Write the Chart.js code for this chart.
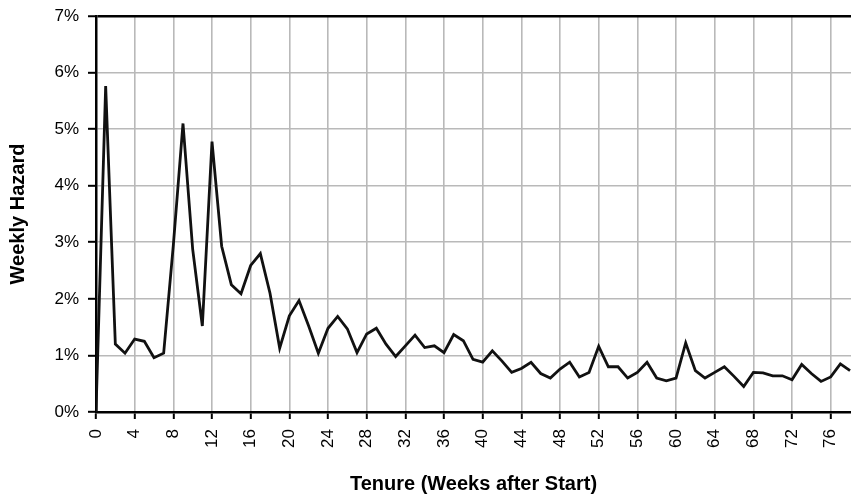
<!DOCTYPE html>
<html>
<head>
<meta charset="utf-8">
<script src="https://cdn.jsdelivr.net/npm/chart.js@4"></script>
<style>
  html, body { margin: 0; padding: 0; background: #fff; }
  #wrap { position: relative; width: 851px; height: 494px; }
</style>
</head>
<body>
<div id="wrap"><canvas id="c"></canvas></div>
<script>
// Tenure in weeks after start
const weeks = [
  0, 1, 2, 3, 4, 5, 6, 7, 8, 9,
  10, 11, 12, 13, 14, 15, 16, 17, 18, 19,
  20, 21, 22, 23, 24, 25, 26, 27, 28, 29,
  30, 31, 32, 33, 34, 35, 36, 37, 38, 39,
  40, 41, 42, 43, 44, 45, 46, 47, 48, 49,
  50, 51, 52, 53, 54, 55, 56, 57, 58, 59,
  60, 61, 62, 63, 64, 65, 66, 67, 68, 69,
  70, 71, 72, 73, 74, 75, 76, 77, 78
];
// Weekly hazard in percent
const weeklyHazard = [
  0.00, 5.76, 1.20, 1.04, 1.29, 1.25, 0.96, 1.04, 2.95, 5.10,
  2.88, 1.52, 4.78, 2.93, 2.25, 2.09, 2.59, 2.80, 2.10, 1.13,
  1.70, 1.97, 1.52, 1.04, 1.48, 1.69, 1.47, 1.05, 1.38, 1.48,
  1.20, 0.98, 1.17, 1.36, 1.14, 1.17, 1.05, 1.37, 1.26, 0.93,
  0.88, 1.08, 0.90, 0.70, 0.77, 0.88, 0.68, 0.60, 0.76, 0.88,
  0.62, 0.70, 1.16, 0.80, 0.80, 0.60, 0.70, 0.88, 0.60, 0.55,
  0.60, 1.22, 0.73, 0.60, 0.70, 0.80, 0.63, 0.45, 0.70, 0.69,
  0.64, 0.64, 0.57, 0.84, 0.68, 0.54, 0.62, 0.85, 0.73
];
// Axis tick labels
const xTickWeeks = [0, 4, 8, 12, 16, 20, 24, 28, 32, 36, 40, 44, 48, 52, 56, 60, 64, 68, 72, 76];
const yTickLabels = ['0%', '1%', '2%', '3%', '4%', '5%', '6%', '7%'];
const xTitle = 'Tenure (Weeks after Start)';
const yTitle = 'Weekly Hazard';

const FONT = '"Liberation Sans", Arial, Helvetica, sans-serif';
const points = weeks.map((w, i) => ({ x: w, y: weeklyHazard[i] }));

new Chart(document.getElementById('c'), {
  type: 'line',
  data: {
    datasets: [{
      label: yTitle,
      data: points,
      borderColor: '#111',
      borderWidth: 2.8,
      pointRadius: 0,
      tension: 0,
      fill: false
    }]
  },
  options: {
    responsive: true,
    maintainAspectRatio: false,
    animation: false,
    layout: { padding: { top: 16, right: 0, bottom: 0, left: 0 } },
    plugins: { legend: { display: false }, tooltip: { enabled: false } },
    scales: {
      x: {
        type: 'linear',
        min: 0,
        max: 78.1,
        afterBuildTicks: (s) => { s.ticks = xTickWeeks.map(v => ({ value: v })); },
        afterFit: (s) => { s.height = 82; s.paddingLeft = 0; s.paddingRight = 0; },
        ticks: {
          includeBounds: false,
          autoSkip: false,
          minRotation: 90,
          maxRotation: 90,
          padding: 10,
          color: '#000',
          font: { family: FONT, size: 17 },
          callback: (v) => String(v)
        },
        grid: { color: '#b9b9b9', lineWidth: 1.6, tickColor: '#000', tickLength: 7, tickWidth: 2 },
        border: { color: '#000', width: 2.5 },
        title: {
          display: true,
          text: xTitle,
          color: '#000',
          font: { family: FONT, size: 20, weight: 'bold', lineHeight: 1 },
          padding: { top: 0, bottom: 0 }
        }
      },
      y: {
        min: 0,
        max: 7,
        afterBuildTicks: (s) => { s.ticks = yTickLabels.map((t, i) => ({ value: i })); },
        afterFit: (s) => { s.width = 96; s.paddingTop = 0; s.paddingBottom = 0; },
        ticks: {
          padding: 9,
          color: '#000',
          font: { family: FONT, size: 17 },
          callback: (v) => yTickLabels[v]
        },
        grid: {
          color: (ctx) => (ctx.tick && ctx.tick.value === 7 ? '#000' : '#b9b9b9'),
          lineWidth: (ctx) => (ctx.tick && ctx.tick.value === 7 ? 2.5 : 1.6),
          tickColor: '#000',
          tickLength: 8,
          tickWidth: 2
        },
        border: { color: '#000', width: 2.5 },
        title: {
          display: true,
          text: yTitle,
          color: '#000',
          font: { family: FONT, size: 20, weight: 'bold', lineHeight: 1.2 },
          padding: { top: 6, bottom: 0 }
        }
      }
    }
  }
});
</script>
</body>
</html>
